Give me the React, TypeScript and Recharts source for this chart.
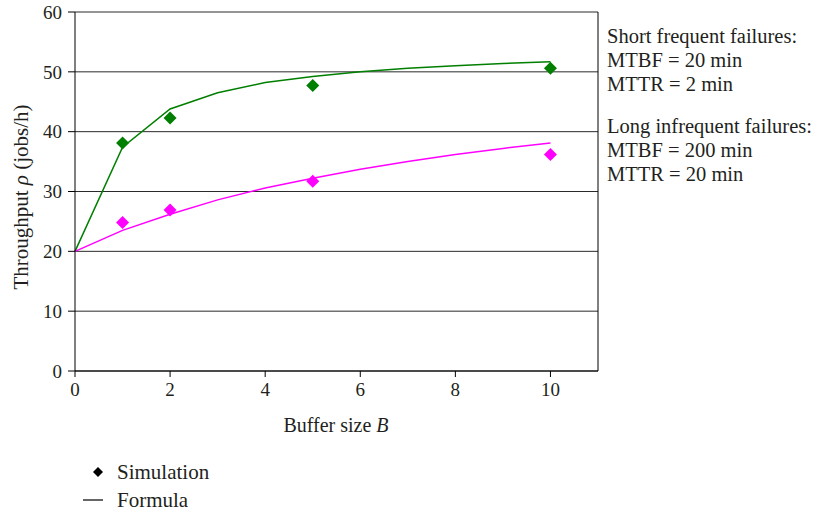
import React from 'react';
import {
  ComposedChart,
  Line,
  Scatter,
  XAxis,
  YAxis,
  CartesianGrid,
  ReferenceLine,
} from 'recharts';

// buffer sizes for the formula curves and the simulated points
const formulaB = [0, 1, 2, 3, 4, 5, 6, 7, 8, 9, 10];
const shortFormula = [20, 37.4, 43.8, 46.5, 48.2, 49.2, 50.0, 50.6, 51.0, 51.4, 51.7];
const longFormula = [20, 23.5, 26.2, 28.6, 30.6, 32.2, 33.7, 35.0, 36.2, 37.2, 38.1];

const simB = [1, 2, 5, 10];
const shortSim = [38.1, 42.3, 47.7, 50.6];
const longSim = [24.8, 26.9, 31.7, 36.2];

const xTicks = [0, 2, 4, 6, 8, 10];
const yTicks = [0, 10, 20, 30, 40, 50, 60];

const GREEN = '#007f00';
const MAGENTA = '#ff00ff';
const INK = '#231f20';
const FONT = '"Liberation Serif", "DejaVu Serif", serif';

const shortLine = formulaB.map((b, i) => ({ b, v: shortFormula[i] }));
const longLine = formulaB.map((b, i) => ({ b, v: longFormula[i] }));
const shortPts = simB.map((b, i) => ({ b, v: shortSim[i] }));
const longPts = simB.map((b, i) => ({ b, v: longSim[i] }));

const diamond = (color: string) => (props: any) => {
  const { cx, cy } = props;
  const r = 6.5;
  return (
    <polygon
      points={`${cx},${cy - r} ${cx + r},${cy} ${cx},${cy + r} ${cx - r},${cy}`}
      fill={color}
    />
  );
};

const YLabel = () => (
  <text
    x={21}
    y={197}
    transform="rotate(-90 21 197)"
    textAnchor="middle"
    dominantBaseline="central"
    fontFamily={FONT}
    fontSize={21}
    fill={INK}
  >
    Throughput <tspan fontStyle="italic">ρ</tspan> (jobs/h)
  </text>
);

const XLabel = () => (
  <text
    x={336}
    y={425}
    textAnchor="middle"
    dominantBaseline="central"
    fontFamily={FONT}
    fontSize={20}
    fill={INK}
  >
    Buffer size <tspan fontStyle="italic">B</tspan>
  </text>
);

const noteStyle: React.CSSProperties = {
  position: 'absolute',
  left: 607,
  fontFamily: FONT,
  fontSize: 20.5,
  color: INK,
  lineHeight: '24px',
  whiteSpace: 'nowrap',
};

const tickStyle = { fontFamily: FONT, fontSize: 19, fill: INK };

export default function App() {
  return (
    <div style={{ position: 'fixed', left: 0, top: 0, width: 820, height: 514, background: '#fff' }}>
      <ComposedChart
        width={820}
        height={514}
        margin={{ top: 12, right: 222, bottom: 113, left: 15 }}
      >
        <CartesianGrid vertical={false} stroke="#2a2a2a" />
        <XAxis
          type="number"
          dataKey="b"
          domain={[0, 11]}
          ticks={xTicks}
          height={30}
          stroke="#000"
          tickSize={6}
          tickMargin={6}
          tick={tickStyle}
          allowDuplicatedCategory={false}
        />
        <YAxis
          type="number"
          dataKey="v"
          domain={[0, 60]}
          ticks={yTicks}
          width={60}
          stroke="#000"
          tickSize={7}
          tickMargin={6}
          tick={tickStyle}
        />
        <ReferenceLine x={11} stroke="#000" />
        <Line data={shortLine} dataKey="v" type="linear" stroke={GREEN} strokeWidth={1.5} dot={false} isAnimationActive={false} />
        <Line data={longLine} dataKey="v" type="linear" stroke={MAGENTA} strokeWidth={1.5} dot={false} isAnimationActive={false} />
        <Scatter data={shortPts} dataKey="v" shape={diamond(GREEN)} isAnimationActive={false} />
        <Scatter data={longPts} dataKey="v" shape={diamond(MAGENTA)} isAnimationActive={false} />
        <YLabel />
        <XLabel />
      </ComposedChart>

      <div style={{ ...noteStyle, top: 24 }}>
        Short frequent failures:<br />MTBF = 20 min<br />MTTR = 2 min
      </div>
      <div style={{ ...noteStyle, top: 114 }}>
        Long infrequent failures:<br />MTBF = 200 min<br />MTTR = 20 min
      </div>

      <svg style={{ position: 'absolute', left: 0, top: 455 }} width={300} height={59}>
        <polygon points="98,12 103,17 98,22 93,17" fill="#000" />
        <text x={117} y={17} dominantBaseline="central" fontFamily={FONT} fontSize={21} fill={INK}>
          Simulation
        </text>
        <line x1={83} x2={103} y1={45} y2={45} stroke="#000" strokeWidth={1.2} />
        <text x={117} y={45} dominantBaseline="central" fontFamily={FONT} fontSize={21} fill={INK}>
          Formula
        </text>
      </svg>
    </div>
  );
}
